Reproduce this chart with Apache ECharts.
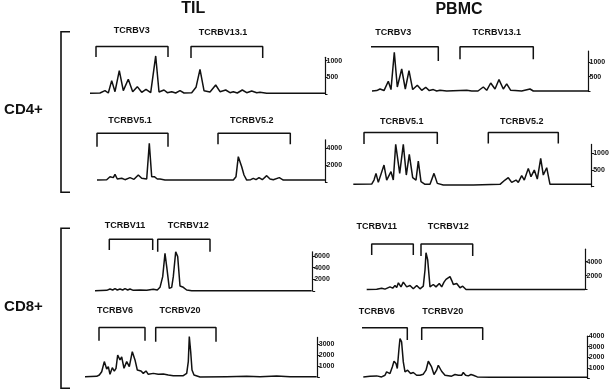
<!DOCTYPE html>
<html><head><meta charset="utf-8">
<script src="https://cdn.jsdelivr.net/npm/echarts@6/dist/echarts.min.js"></script>
<style>html,body{margin:0;padding:0;background:#fff}#c{width:614px;height:391px}</style>
</head><body><div id="c"></div>
<script>
// ---- data: traces [position, fluorescence] ----
const traceTilCd4A = [[0,20],[10,30],[15,100],[18.3,30],[21.7,400],[25,70],[29.3,700],[33.3,100],[38.3,440],[42.7,70],[47.3,220],[51.7,50],[56,140],[60.7,40],[65.7,1140],[69,60],[74,120],[77.3,40],[81.7,70],[85.7,30],[90,100],[94,30],[101.7,40],[106,200],[110,740],[114,100],[120,60],[125.7,270],[130,70],[135.7,120],[140,40],[143.3,70],[147.3,30],[152.3,120],[156.7,40],[161.7,90],[166.7,40],[170,50],[176.7,20],[235,20]];
const tracePbmcCd4A = [[0,0],[4.7,15],[8,70],[12,15],[16.3,340],[19,50],[22.3,1355],[25.3,140],[29.7,770],[33.3,70],[37,715],[40.7,50],[45.3,200],[49.7,25],[53.7,130],[57.3,15],[61.3,50],[64.7,0],[68,25],[74.7,0],[94.7,25],[99.7,0],[106,0],[111.3,140],[114.7,25],[118.7,280],[123,70],[127,400],[131.3,70],[134.7,250],[138.7,25],[143,15],[149.7,0],[158,70],[161.3,0],[216.3,0]];
const traceTilCd4B = [[0,290],[9.7,330],[13,680],[14.7,800],[16.3,570],[18,950],[20.3,410],[24.7,490],[28,330],[33,570],[37,370],[41.3,880],[44.7,490],[46.3,680],[49.7,410],[52.3,4580],[54.7,680],[57.3,680],[60.3,410],[63,410],[68,290],[136.3,290],[139,680],[141.3,3020],[144.7,1850],[147,880],[149.7,290],[153.7,330],[156.3,490],[159,330],[162,570],[165.3,330],[169.7,800],[173,410],[176.3,330],[182.3,570],[186.3,290],[228,290]];
const tracePbmcCd4B = [[0,70],[18.4,80],[20.7,200],[22.7,400],[25,130],[26.7,130],[30.7,650],[33.4,200],[35,200],[37.7,450],[40,200],[42.4,1270],[46.4,400],[50,1270],[53,350],[56,970],[59.4,270],[62.7,200],[65,770],[67.7,150],[71.7,70],[76.7,70],[80.7,400],[84,100],[90,50],[120,50],[146.7,70],[151.7,200],[155,270],[158.4,130],[162.7,200],[165,130],[168.4,330],[171,200],[175,550],[177.7,300],[181,500],[184,230],[187.4,850],[190,350],[193.4,570],[196.7,70],[238.4,70]];
const traceTilCd8A = [[0,60],[11.7,110],[15,340],[17.7,170],[20,400],[22.3,170],[25,340],[27.7,170],[30,400],[32.7,170],[35,340],[38.3,110],[45,170],[51.7,110],[58.3,280],[62.3,170],[65,630],[67.7,2450],[70,6440],[71.7,4160],[74.3,450],[76.7,630],[78.3,2450],[80.7,6700],[82.7,5870],[85,850],[88.3,630],[91.7,170],[96.7,60],[216.7,60]];
const tracePbmcCd8A = [[0,0],[10,50],[15,190],[18.3,50],[23.3,380],[26,190],[28.3,580],[30,290],[31.7,960],[34.3,380],[36.6,1060],[40,380],[43.3,580],[46.6,100],[50,580],[53.3,100],[56.6,480],[58.3,2810],[59.3,5300],[61,4250],[63.3,380],[66.6,720],[69.3,380],[72.6,860],[75,380],[77.3,1060],[79.3,1450],[81.3,1210],[83.3,1850],[85.3,1210],[86.6,720],[90,860],[93.3,250],[96,480],[99.3,0],[218.3,0]];
const traceTilCd8B = [[0,30],[11.7,60],[14.3,180],[16.7,480],[19.3,1400],[21.7,730],[23.3,940],[25,240],[27.3,850],[29.3,540],[31,790],[32.7,2000],[35,1550],[36.7,1820],[39,790],[41.7,1400],[44.3,940],[47.3,2300],[50,1550],[52.3,640],[56,550],[58.3,330],[61,550],[63.3,240],[68.3,330],[73.3,240],[78.3,270],[83.3,180],[88.3,120],[98.3,120],[101.7,330],[103.3,1400],[104.3,3670],[105.7,2300],[107,640],[109,180],[115,0],[141.7,30],[161.7,60],[175,30],[191.7,90],[205,30],[231.7,30]];
const tracePbmcCd8B = [[0,130],[6.7,200],[13.3,230],[15,290],[18.3,130],[21.7,290],[23.3,610],[26.7,450],[29,1080],[30.7,1620],[32.7,1400],[34,930],[35.7,2830],[36.7,3780],[38.3,3460],[40,1560],[41.7,610],[44.3,770],[47.3,450],[50,550],[53.3,290],[56.7,290],[60,390],[62.7,770],[65,1620],[66.7,1560],[68.3,1080],[70.7,360],[73.3,770],[75,1240],[76.7,1080],[78.3,670],[81.7,290],[88.3,200],[91.7,360],[93.3,550],[95,290],[98.3,290],[100,550],[102.3,290],[105,230],[107.7,360],[110,290],[111.7,420],[114,130],[126.7,100],[224,100]];

// ---- gene segment brackets: [name, xStart, xEnd, topValue, endValue, labelX, labelValue] ----
const bracketsTilCd4A = [["TCRBV3",6,78,1420,1110,41.7,1900],["TCRBV13.1",101,172.7,1420,1080,133,1830]];
const bracketsPbmcCd4A = [["TCRBV3",-6,66.3,1550,1050,21.3,2040],["TCRBV13.1",88,161.3,1550,1110,124.7,2040]];
const bracketsTilCd4B = [["TCRBV5.1",0,71,5760,4190,33,7200],["TCRBV5.2",121,193.3,5760,4470,154.7,7200]];
const bracketsPbmcCd4B = [["TCRBV5.1",10.7,84,1630,1280,48.4,1970],["TCRBV5.2",135,205,1630,1300,168.4,1970]];
const bracketsTilCd8A = [["TCRBV11",14.3,57.7,8840,7010,30,11120],["TCRBV12",62.7,115,8840,6720,93.3,11120]];
const bracketsPbmcCd8A = [["TCRBV11",5,46.6,6550,4970,10,9040],["TCRBV12",54.3,106,6550,4820,81.6,9040]];
const bracketsTilCd8B = [["TCRBV6",14,60,4490,3300,30,6010],["TCRBV20",70.7,131,4490,3210,95,6010]];
const bracketsPbmcCd8B = [["TCRBV6",-3.3,44,4810,3640,13.4,6390],["TCRBV20",58.4,119.4,4810,3640,79.4,6390]];

// ---- axes: [max, interval] ----
const yScales = [[1100,500],[1400,500],[5000,2000],[1270,500],[6700,2000],[5800,2000],[3600,1000],[4000,1000]];
const columnTitles = ["TIL","PBMC"];
const rowTitles = ["CD4+","CD8+"];

// ---- layout (pixels) ----
const layout = [
  {left:90, width:235, top:57.3, height:36.7},
  {left:372, width:216, top:51, height:40},
  {left:97, width:228, top:139.8, height:42.7},
  {left:353.3, width:238.4, top:144.4, height:42.3},
  {left:95, width:217.7, top:251.8, height:39.2},
  {left:366.7, width:218.3, top:249.2, height:40.3},
  {left:85, width:232.3, top:337.4, height:39.6},
  {left:363.3, width:224, top:336.2, height:42.1}
];
const traces = [traceTilCd4A, tracePbmcCd4A, traceTilCd4B, tracePbmcCd4B, traceTilCd8A, tracePbmcCd8A, traceTilCd8B, tracePbmcCd8B];
const brackets = [bracketsTilCd4A, bracketsPbmcCd4A, bracketsTilCd4B, bracketsPbmcCd4B, bracketsTilCd8A, bracketsPbmcCd8A, bracketsTilCd8B, bracketsPbmcCd8B];

const FONT = '"Liberation Sans", Arial, Helvetica, sans-serif';
const INK = '#111';
const grids = [], xAxes = [], yAxes = [], series = [];
layout.forEach((g, i) => {
  grids.push({left:g.left, top:g.top, width:g.width, height:g.height, containLabel:false, outerBoundsMode:'none'});
  xAxes.push({type:'value', gridIndex:i, min:0, max:g.width, show:false});
  const [mx, iv] = yScales[i];
  yAxes.push({type:'value', gridIndex:i, position:'right', min:0, max:mx, interval:iv,
    splitLine:{show:false},
    axisLine:{show:true, onZero:false, lineStyle:{color:INK, width:1.2}},
    axisTick:{show:true, inside:false, length:2.5, lineStyle:{color:INK, width:1}},
    axisLabel:{show:true, margin:1.5, fontSize:7, fontWeight:'bold', color:INK, fontFamily:FONT,
      showMaxLabel: (mx % iv === 0), formatter: v => v === 0 ? '' : String(v)}
  });
  series.push({type:'line', xAxisIndex:i, yAxisIndex:i, data:traces[i], symbol:'none', clip:false,
    lineStyle:{color:INK, width:1.5}, animation:false});
  brackets[i].forEach(b => {
    const [name, x0, x1, top, end] = b;
    series.push({type:'line', xAxisIndex:i, yAxisIndex:i, symbol:'none', clip:false, animation:false,
      data:[[x0,end],[x0,top],[x1,top],[x1,end]], lineStyle:{color:INK, width:1.5}});
  });
  series.push({type:'scatter', xAxisIndex:i, yAxisIndex:i, symbolSize:0, clip:false, animation:false,
    itemStyle:{opacity:1, color:INK},
    data: brackets[i].map(b => ({name:b[0], value:[b[5], b[6]]})),
    label:{show:true, position:'inside', formatter: p => p.name, fontSize:9, fontWeight:'bold', color:INK,
      opacity:1, textBorderWidth:0, textBorderColor:'transparent', fontFamily:FONT}});
});

const graphic = [
  {type:'text', x:193.3, y:8.7, style:{text:columnTitles[0], font:'bold 16px '+FONT, fill:INK, textAlign:'center', textVerticalAlign:'middle'}},
  {type:'text', x:459, y:9.2, style:{text:columnTitles[1], font:'bold 16px '+FONT, fill:INK, textAlign:'center', textVerticalAlign:'middle'}},
  {type:'text', x:23.5, y:110, style:{text:rowTitles[0], font:'bold 15px '+FONT, fill:INK, textAlign:'center', textVerticalAlign:'middle'}},
  {type:'text', x:23.5, y:307.3, style:{text:rowTitles[1], font:'bold 15px '+FONT, fill:INK, textAlign:'center', textVerticalAlign:'middle'}},
  {type:'polyline', shape:{points:[[70,31.7],[61,31.7],[61,192.3],[70,192.3]]}, style:{stroke:INK, lineWidth:1.6, fill:null}},
  {type:'polyline', shape:{points:[[70,228.3],[61,228.3],[61,388.3],[70,388.3]]}, style:{stroke:INK, lineWidth:1.6, fill:null}}
];

const chart = echarts.init(document.getElementById('c'), null, {renderer:'canvas'});
chart.setOption({backgroundColor:'#fff', animation:false, grid:grids, xAxis:xAxes, yAxis:yAxes, series:series, graphic:graphic});
</script></body></html>
